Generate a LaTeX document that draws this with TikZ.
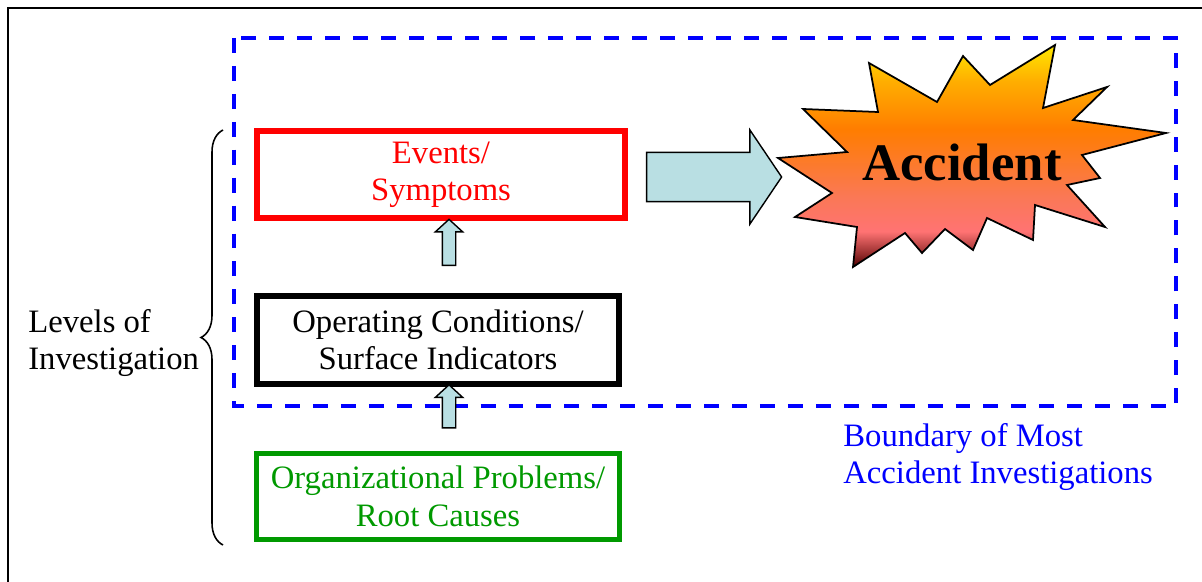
\documentclass[tikz,border=0pt]{standalone}
\usepackage{fontspec}
\setmainfont{Liberation Serif}
\usetikzlibrary{shapes.arrows,decorations.pathreplacing}

\definecolor{arrowfill}{RGB}{185,223,227}
\definecolor{rootgreen}{RGB}{0,153,0}
\definecolor{burstA}{RGB}{80,0,0}
\definecolor{burstB}{RGB}{150,45,45}
\definecolor{burstC}{RGB}{255,115,115}
\definecolor{burstD}{RGB}{250,120,85}
\definecolor{burstE}{RGB}{255,125,0}
\definecolor{burstF}{RGB}{255,175,0}
\definecolor{burstG}{RGB}{255,232,0}
\pgfdeclareverticalshading{burst}{100bp}{color(0bp)=(burstA); color(25bp)=(burstA); color(28bp)=(burstB); color(33bp)=(burstC); color(41bp)=(burstD); color(56bp)=(burstE); color(67bp)=(burstF); color(75bp)=(burstG); color(100bp)=(burstG)}

\tikzset{
    levelbox/.style={draw=#1, text=#1, line width=3.4pt, minimum width=7.26cm, minimum height=1.74cm,
        align=center, font=\fontsize{18.6}{21.3}\selectfont},
    sidetext/.style={align=left, inner sep=0pt, anchor=west, font=\fontsize{18.6}{21.3}\selectfont},
    uparrow/.style={single arrow, draw=black, fill=arrowfill, line width=0.8pt, rotate=90, anchor=tail,
        inner sep=0.12cm, single arrow head extend=0.14cm, single arrow tip angle=95, minimum height=#1},
    bigarrow/.style={single arrow, draw=black, fill=arrowfill, line width=0.8pt, anchor=tail,
        inner sep=0.48cm, single arrow head extend=0.45cm, single arrow tip angle=112, minimum height=2.7cm}
}

\begin{document}
\begin{tikzpicture}[x=0.02cm, y=-0.02cm]
        \useasboundingbox (0,0) rectangle (1202,581);
        % page frame
        \draw[line width=1.7pt] (8,600) -- (8,8) -- (1220,8);
        % boundary of most investigations
        \draw[blue, line width=2.3pt, dash pattern=on 8.5pt off 7.4pt] (234,38) rectangle (1176,406);
        % levels
        \node[levelbox=red, minimum width=7.36cm] (events) at (441,174.5) {Events/\\Symptoms};
        \node[levelbox=black, minimum height=1.76cm] (conds) at (438,340) {Operating Conditions/\\Surface Indicators};
        \node[levelbox=rootgreen, line width=2.8pt, minimum height=1.72cm] (roots) at (438,496.5) {Organizational Problems/\\Root Causes};
        \node[uparrow=0.92cm] (up1) at ([shift={(0.22cm,0.54cm)}]conds.north) {};
        \node[uparrow=0.86cm] (up2) at ([shift={(0.22cm,0.45cm)}]roots.north) {};
        % accident burst
        \draw[line width=1pt, shading=burst]
            (778,158) -- (847,152) -- (803,109) -- (878,112) -- (869,63) -- (937,102) -- (963,56)
            -- (990,85) -- (1055,45) -- (1043,108) -- (1107,87) -- (1073,120) -- (1166,133)
            -- (1082,155) -- (1100,178) -- (1067,185) -- (1105,227) -- (1035,205) -- (1033,240)
            -- (987,218) -- (973,250) -- (945,229) -- (922,253) -- (905,233) -- (853,267)
            -- (857,227) -- (795,217) -- (832,193) -- cycle;
        \node[font=\fontsize{30}{34}\selectfont\bfseries] (accident) at (962,162) {Accident};
        \node[bigarrow] (push) at ([shift={(0.36cm,-0.05cm)}]events.east) {};
        % side labels
        \draw[line width=0.9pt, decorate, decoration={brace, amplitude=0.44cm}] (223,545) -- (223,130);
        \node[sidetext] (levels) at (28,343) {Levels of\\Investigation};
        \node[sidetext, text=blue] (bound) at (843,457) {Boundary of Most\\Accident Investigations};
\end{tikzpicture}
\end{document}
